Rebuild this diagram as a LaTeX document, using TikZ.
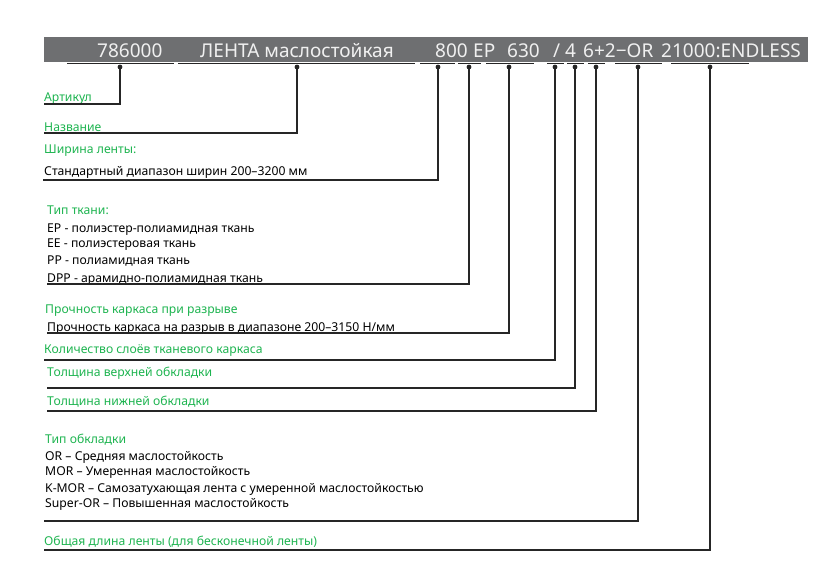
\documentclass[tikz,border=0pt]{standalone}
\usepackage{fontspec}
\setmainfont{Noto Sans}
\definecolor{bargrey}{RGB}{110,111,113}
\definecolor{leafgreen}{RGB}{30,180,80}
\tikzset{
  barpart/.style  = {anchor=base west, inner sep=0pt,
                     text=white!94!black,
                     font=\fontsize{19}{22}\selectfont},
  entry/.style    = {anchor=base west, inner sep=0pt,
                     font=\fontsize{12.2}{14}\selectfont},
  heading/.style  = {entry, text=leafgreen},
  underbar/.style = {line width=1.5pt, draw=black!85},
  leader/.style   = {line width=1.5pt, draw=black!85}
}

\begin{document}
\begin{tikzpicture}[x=1pt, y=-1pt]
  \useasboundingbox (0,0) rectangle (838,587);
  \fill[bargrey] (44,37) rectangle (808,62);
  \foreach \x/\t [count=\i] in {97/786000, 200/{ЛЕНТА маслостойкая},
      435/800, 473/EP, 507/630, 553/{/}, 565/4, 583/{6+2−OR},
      661/{21000:ENDLESS}}
    \node[barpart] (code-\i) at (\x,57) {\t};
  \foreach \a/\b/\c [count=\i] in {67/174/120, 178/415/297, 420/455/438,
      458/481/469, 486/534/509, 547/564/555, 567/584/575, 588/605/596,
      615/662/638, 671/749/710} {
    \draw[underbar] (\a,63.5) -- (\b,63.5);
    \fill[black!85] (\c,67) circle (2.4pt);
    \coordinate (dot-\i) at (\c,67);
  }

  \node[heading] (article)    at (44,101) {Артикул};
  \node[heading] (name)       at (44,131) {Название};
  \node[heading] (width)      at (44,153) {Ширина ленты:};
  \node[entry]   (width-std)  at (44,175) {Стандартный диапазон ширин 200–3200 мм};
  \node[heading] (fabric)     at (47,214) {Тип ткани:};
  \node[entry]   (fabric-ep)  at (47,232) {EP - полиэстер-полиамидная ткань};
  \node[entry]   (fabric-ee)  at (47,247) {EE - полиэстеровая ткань};
  \node[entry]   (fabric-pp)  at (47,264) {PP - полиамидная ткань};
  \node[entry]   (fabric-dpp) at (47,282) {DPP - арамидно-полиамидная ткань};
  \node[heading] (strength)   at (45,313) {Прочность каркаса при разрыве};
  \node[entry]   (strength-range) at (47,331) {Прочность каркаса на разрыв в диапазоне 200–3150 Н/мм};
  \node[heading] (plies)      at (44,353) {Количество слоёв тканевого каркаса};
  \node[heading] (top)        at (47,376) {Толщина верхней обкладки};
  \node[heading] (bottom)     at (47,405) {Толщина нижней обкладки};
  \node[heading] (cover)      at (45,443) {Тип обкладки};
  \node[entry]   (cover-or)   at (45,460) {OR – Средняя маслостойкость};
  \node[entry]   (cover-mor)  at (45,475) {MOR – Умеренная маслостойкость};
  \node[entry]   (cover-kmor) at (45,492) {K-MOR – Самозатухающая лента с умеренной маслостойкостью};
  \node[entry]   (cover-sor)  at (45,507) {Super-OR – Повышенная маслостойкость};
  \node[heading] (length)     at (44,545) {Общая длина ленты (для бесконечной ленты)};

  \foreach \x/\y [count=\i] in {44/104, 44/133, 43/180, 47/284, 47/333,
      44/360, 47/388, 47/411, 44/521, 44/550}
    \coordinate (end-\i) at (\x,\y);
  \foreach \i in {1,...,10}
    \draw[leader] (dot-\i) |- (end-\i);
\end{tikzpicture}
\end{document}
